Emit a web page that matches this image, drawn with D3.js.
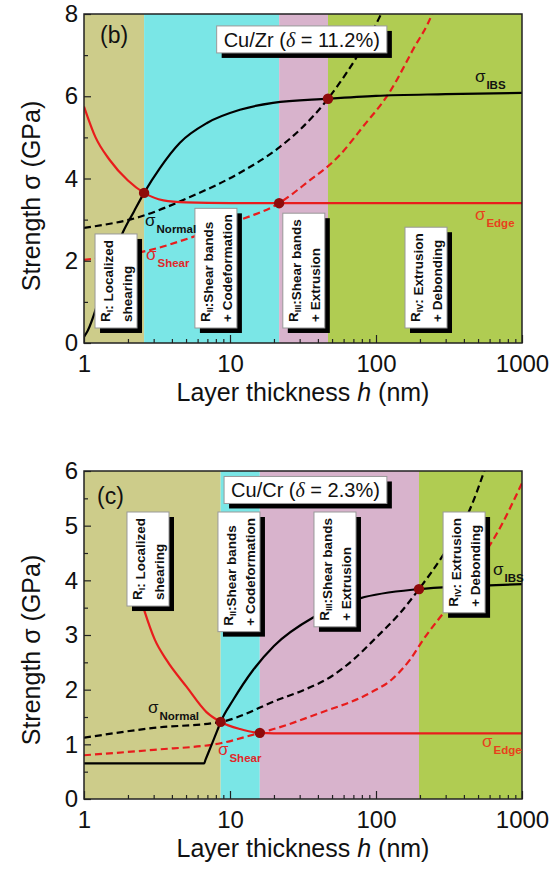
<!DOCTYPE html>
<html>
<head>
<meta charset="utf-8">
<script src="https://cdn.jsdelivr.net/npm/d3@7"></script>
<style>
body { margin: 0; background: #fff; }
svg text { font-family: "Liberation Sans", Arial, sans-serif; }
</style>
</head>
<body>
<svg id="chart" width="558" height="869"></svg>
<script>
// ---- panel (b) Cu/Zr ----
var zrBounds = [1, 2.58, 21.7, 46.9, 1000];
var zrEdgeH = [1, 1.2, 1.5, 2, 2.58, 3.5, 5, 10, 1000];
var zrEdgeS = [5.75, 5.0, 4.45, 3.95, 3.65, 3.47, 3.42, 3.4, 3.4];
var zrIbsH = [1, 1.06, 1.4, 1.85, 2.2, 2.58, 3.32, 4.54, 6.96, 11.7, 19.7, 46.9, 100, 300, 1000];
var zrIbsS = [0.15, 0.3, 1.55, 2.7, 3.2, 3.65, 4.26, 4.87, 5.35, 5.67, 5.84, 5.94, 6.01, 6.05, 6.08];
var zrNormH = [1, 2.42, 5.32, 11.7, 22, 30, 46.9, 56.5, 74, 106, 115];
var zrNormS = [2.8, 3.07, 3.55, 4.14, 4.77, 5.18, 5.94, 6.33, 6.96, 7.93, 8.2];
var zrShearH = [1, 2.83, 5.57, 11.7, 21.7, 33.6, 56.5, 81, 124, 179, 242, 260];
var zrShearS = [2.02, 2.26, 2.58, 2.99, 3.4, 3.9, 4.57, 5.25, 6.1, 7.13, 8.0, 8.3];
var zrDotH = [2.58, 21.7, 46.9];
var zrDotS = [3.65, 3.4, 5.94];
var zrYTicks = [0, 2, 4, 6, 8];
var zrYMinor = [1, 3, 5, 7];

// ---- panel (c) Cu/Cr ----
var crBounds = [1, 8.63, 16, 197, 1000];
var crEdgeH = [2.3, 2.58, 3.06, 3.68, 5.05, 6.9, 8.63, 11.7, 16, 25, 1000];
var crEdgeS = [3.9, 3.46, 2.91, 2.54, 2.05, 1.59, 1.41, 1.28, 1.21, 1.2, 1.2];
var crIbsH = [1, 6.64, 6.8, 7.5, 8.2, 8.63, 10.5, 14.4, 20, 37.6, 77.6, 197, 400, 1000];
var crIbsS = [0.65, 0.65, 0.72, 1.0, 1.26, 1.41, 1.81, 2.36, 2.8, 3.33, 3.67, 3.84, 3.89, 3.93];
var crNormH = [1, 3, 8.63, 22, 31.8, 50, 70, 100, 146, 197, 288, 440, 560];
var crNormS = [1.12, 1.3, 1.41, 1.83, 1.99, 2.25, 2.55, 2.95, 3.4, 3.84, 4.46, 5.3, 6.05];
var crShearH = [1, 3, 8.63, 16, 18.8, 41, 91, 130, 171, 210, 337, 462, 674, 1000];
var crShearS = [0.8, 0.9, 1.02, 1.21, 1.26, 1.57, 1.94, 2.2, 2.55, 2.91, 3.64, 4.19, 4.86, 5.78];
var crDotH = [8.63, 16, 197];
var crDotS = [1.41, 1.21, 3.84];
var crYTicks = [0, 1, 2, 3, 4, 5, 6];
var crYMinor = [0.5, 1.5, 2.5, 3.5, 4.5, 5.5];

var xMajor = [1, 10, 100, 1000];
var regionColors = ["#cdcc8a", "#7ae6e6", "#d8b3cc", "#b0cc52"];
var red = "#e81c1c";

var svg = d3.select("#chart");
var left = 84, right = 522;

function sigmaLabel(g, px, py, sub, color) {
	var t = g.append("text").attr("x", px).attr("y", py).attr("fill", color);
	t.append("tspan").attr("font-size", 17).text("\u03c3");
	t.append("tspan").attr("font-size", 11.5).attr("font-weight", "bold")
		.attr("dx", 1).attr("dy", 7).text(sub);
}

function regionBox(g, bx, by, anchor, lines) {
	var bg = g.append("g");
	var texts = [];
	lines.forEach(function(ln, i) {
		var t = bg.append("text").attr("font-size", 13.5).attr("font-weight", "bold").attr("fill", "#111");
		ln.forEach(function(part) {
			if (part.sub) {
				t.append("tspan").attr("font-size", 9).attr("dy", 3).text(part.sub);
				t.append("tspan").attr("dy", -3).text("");
			} else {
				t.append("tspan").text(part.t);
			}
		});
		texts.push(t);
	});
	var maxLen = d3.max(texts, function(t){ return t.node().getComputedTextLength(); });
	var H = maxLen + 12, W = 42;
	var top = anchor == "bottom" ? by - H : by;
	texts.forEach(function(t, i) {
		t.attr("transform", "translate(" + (bx + (i == 0 ? 15 : 37)) + "," + (top + H - 6) + ") rotate(-90)");
	});
	bg.insert("rect", "text").attr("x", bx + 5).attr("y", top + 5).attr("width", W).attr("height", H).attr("fill", "#000");
	bg.insert("rect", "text").attr("x", bx).attr("y", top).attr("width", W).attr("height", H)
		.attr("fill", "#fff").attr("stroke", "#999").attr("stroke-width", 1);
}

function titleBox(g, rx, ty, name, delta) {
	var bg = g.append("g");
	var t = bg.append("text").attr("font-size", 20).attr("fill", "#111");
	t.append("tspan").text(name + " (");
	t.append("tspan").attr("font-style", "italic").attr("font-family", "Liberation Serif, serif").text("\u03b4");
	t.append("tspan").text(" = " + delta + ")");
	var w = t.node().getComputedTextLength() + 14;
	t.attr("x", rx - w + 7).attr("y", ty + 21);
	bg.insert("rect", "text").attr("x", rx - w + 5).attr("y", ty + 5).attr("width", w).attr("height", 27).attr("fill", "#000");
	bg.insert("rect", "text").attr("x", rx - w).attr("y", ty).attr("width", w).attr("height", 27)
		.attr("fill", "#fff").attr("stroke", "#999").attr("stroke-width", 1);
}

function drawPanel(p) {
	var g = svg.append("g");
	var x = d3.scaleLog().domain([1, 1000]).range([left, right]);
	var y = d3.scaleLinear().domain([0, p.yMax]).range([p.bottom, p.top]);

	g.append("clipPath").attr("id", "clip" + p.id).append("rect")
		.attr("x", left).attr("y", p.top).attr("width", right - left).attr("height", p.bottom - p.top);

	// shaded regimes
	g.selectAll("rect.region").data(d3.pairs(p.bounds)).enter().append("rect")
		.attr("class", "region")
		.attr("x", function(d){ return x(d[0]); })
		.attr("width", function(d){ return x(d[1]) - x(d[0]); })
		.attr("y", p.top).attr("height", p.bottom - p.top)
		.attr("fill", function(d, i){ return regionColors[i]; });

	var line = d3.line()
		.x(function(d){ return x(d[0]); })
		.y(function(d){ return y(d[1]); })
		.curve(d3.curveMonotoneX);

	p.curves.forEach(function(c) {
		g.append("path").datum(d3.zip(c.h, c.s))
			.attr("d", line)
			.attr("fill", "none")
			.attr("stroke", c.color)
			.attr("stroke-width", 2.2)
			.attr("stroke-dasharray", c.dash ? "7,4" : null)
			.attr("clip-path", "url(#clip" + p.id + ")");
	});

	g.selectAll("circle").data(d3.zip(p.dotH, p.dotS)).enter().append("circle")
		.attr("cx", function(d){ return x(d[0]); })
		.attr("cy", function(d){ return y(d[1]); })
		.attr("r", 5.2)
		.attr("fill", "#8e0b0b");

	// axes
	var minor = x.ticks().filter(function(v){ return xMajor.indexOf(v) < 0; });
	var gx = g.append("g").attr("transform", "translate(0," + p.bottom + ")");
	gx.call(d3.axisBottom(x).tickValues(xMajor).tickFormat(d3.format("d")).tickSize(-8).tickPadding(12));
	gx.call(function(s){ s.select(".domain").remove(); });
	var gxm = g.append("g").attr("transform", "translate(0," + p.bottom + ")");
	gxm.call(d3.axisBottom(x).tickValues(minor).tickFormat("").tickSize(-4));
	gxm.select(".domain").remove();

	var gy = g.append("g").attr("transform", "translate(" + left + ",0)");
	gy.call(d3.axisLeft(y).tickValues(p.yTicks).tickFormat(d3.format("d")).tickSize(-7).tickPadding(6));
	gy.select(".domain").remove();
	var gym = g.append("g").attr("transform", "translate(" + left + ",0)");
	gym.call(d3.axisLeft(y).tickValues(p.yMinor).tickFormat("").tickSize(-4));
	gym.select(".domain").remove();

	g.selectAll(".tick text").attr("font-size", 24).attr("fill", "#111")
		.attr("font-family", "Liberation Sans, Arial, sans-serif");
	g.selectAll(".tick line").attr("stroke", "#222").attr("stroke-width", 1.2);

	g.append("rect").attr("x", left).attr("y", p.top)
		.attr("width", right - left).attr("height", p.bottom - p.top)
		.attr("fill", "none").attr("stroke", "#222").attr("stroke-width", 1.5);

	// axis titles
	var xt = g.append("text").attr("x", (left + right) / 2).attr("y", p.bottom + 58)
		.attr("text-anchor", "middle").attr("font-size", 25).attr("fill", "#111");
	xt.append("tspan").text("Layer thickness ");
	xt.append("tspan").attr("font-style", "italic").text("h");
	xt.append("tspan").text(" (nm)");

	g.append("text").attr("transform", "translate(40," + p.titleY + ") rotate(-90)")
		.attr("text-anchor", "middle").attr("font-size", 25).attr("fill", "#111")
		.text("Strength \u03c3 (GPa)");

	// annotations
	g.append("text").attr("x", x(p.tag[1])).attr("y", y(p.tag[2]))
		.attr("font-size", 23).attr("fill", "#111").text(p.tag[0]);
	titleBox(g, x(p.boxR[0]), y(p.boxR[1]), p.system, p.delta);

	p.regimes.forEach(function(r) {
		regionBox(g, x(r.h), y(p.regimeS), p.regimeAnchor, r.lines);
	});

	p.labels.forEach(function(l) {
		sigmaLabel(g, x(l.h), y(l.s), l.sub, l.color);
	});
}

var regimeLines = [
	[[{t: "R"}, {sub: "I"}, {t: ": Localized"}], [{t: "shearing"}]],
	[[{t: "R"}, {sub: "II"}, {t: ":Shear bands"}], [{t: "+ Codeformation"}]],
	[[{t: "R"}, {sub: "III"}, {t: ":Shear bands"}], [{t: "+ Extrusion"}]],
	[[{t: "R"}, {sub: "IV"}, {t: ": Extrusion"}], [{t: "+ Debonding"}]]
];

drawPanel({
	id: "b", top: 14, bottom: 343, yMax: 8, titleY: 196,
	bounds: zrBounds, yTicks: zrYTicks, yMinor: zrYMinor,
	curves: [
		{h: zrNormH, s: zrNormS, color: "#000", dash: true},
		{h: zrShearH, s: zrShearS, color: red, dash: true},
		{h: zrEdgeH, s: zrEdgeS, color: red},
		{h: zrIbsH, s: zrIbsS, color: "#000"}
	],
	dotH: zrDotH, dotS: zrDotS,
	tag: ["(b)", 1.287, 7.3],
	system: "Cu/Zr", delta: "11.2%", boxR: [118.7, 7.71],
	regimeS: 0.365, regimeAnchor: "bottom",
	regimes: [
		{h: 1.19, lines: regimeLines[0]},
		{h: 5.75, lines: regimeLines[1]},
		{h: 23.0, lines: regimeLines[2]},
		{h: 158, lines: regimeLines[3]}
	],
	labels: [
		{h: 476, s: 6.35, sub: "IBS", color: "#111"},
		{h: 476, s: 2.99, sub: "Edge", color: "#e8401c"},
		{h: 2.62, s: 2.85, sub: "Normal", color: "#111"},
		{h: 2.66, s: 2.02, sub: "Shear", color: "#e0282a"}
	]
});

drawPanel({
	id: "c", top: 471, bottom: 799, yMax: 6, titleY: 650,
	bounds: crBounds, yTicks: crYTicks, yMinor: crYMinor,
	curves: [
		{h: crNormH, s: crNormS, color: "#000", dash: true},
		{h: crShearH, s: crShearS, color: red, dash: true},
		{h: crEdgeH, s: crEdgeS, color: red},
		{h: crIbsH, s: crIbsS, color: "#000"}
	],
	dotH: crDotH, dotS: crDotS,
	tag: ["(c)", 1.227, 5.4],
	system: "Cu/Cr", delta: "2.3%", boxR: [118.7, 5.9],
	regimeS: 5.25, regimeAnchor: "top",
	regimes: [
		{h: 1.97, lines: regimeLines[0]},
		{h: 8.27, lines: regimeLines[1]},
		{h: 37.6, lines: regimeLines[2]},
		{h: 288, lines: regimeLines[3]}
	],
	labels: [
		{h: 633, s: 4.10, sub: "IBS", color: "#111"},
		{h: 532, s: 0.95, sub: "Edge", color: "#e8401c"},
		{h: 2.74, s: 1.57, sub: "Normal", color: "#111"},
		{h: 8.27, s: 0.80, sub: "Shear", color: "#e0282a"}
	]
});
</script>
</body>
</html>
